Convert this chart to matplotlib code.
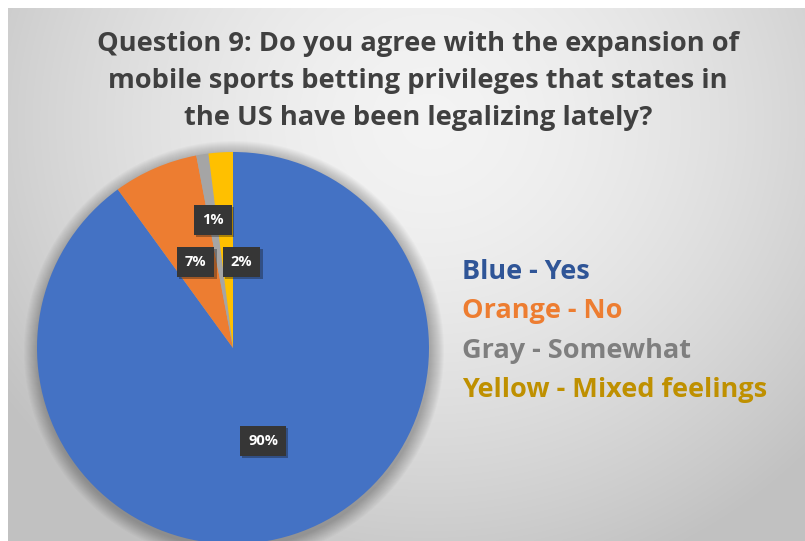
import numpy as np
import matplotlib
matplotlib.use("Agg")
import matplotlib.pyplot as plt
from matplotlib.patches import Circle
import matplotlib.patheffects as pe

# Survey results
categories = ["Blue - Yes", "Orange - No", "Gray - Somewhat", "Yellow - Mixed feelings"]
shares = [90, 7, 1, 2]
title = ("Question 9: Do you agree with the expansion of\n"
         "mobile sports betting privileges that states in\n"
         "the US have been legalizing lately?")

slice_colors = ["#4472C4", "#ED7D31", "#A5A5A5", "#FFC000"]
legend_colors = ["#2F5597", "#ED7D31", "#7F7F7F", "#BF9000"]
FONT = "Open Sans"

W, H = 805, 541
fig = plt.figure(figsize=(W / 100, H / 100), dpi=100, facecolor="white")
ax = fig.add_axes([0, 0, 1, 1])
ax.set_xlim(0, W)
ax.set_ylim(0, H)
ax.axis("off")

# Soft radial gray backdrop (white margin on top and left)
gx, gy = np.meshgrid(np.linspace(8, W, 400), np.linspace(0, H - 8, 270))
d = np.sqrt(((gx - 430) / 560) ** 2 + ((gy - 420) / 520) ** 2)
shade = np.clip(0.955 - 0.22 * d ** 1.6, 0.76, 0.96)
ax.imshow(np.dstack([shade] * 3), extent=(8, W, 0, H - 8), origin="lower",
          aspect="auto", interpolation="bilinear", zorder=0)

cx, cy, r = 233, 193, 196

# Blurred drop shadow under the pie
for k in range(14):
    ax.add_patch(Circle((cx + 1, cy - 3), r + 14 - k, color="black",
                        alpha=0.02, lw=0, zorder=1))

wedges, _, autotexts = ax.pie(
    shares, colors=slice_colors, startangle=90, counterclock=False,
    center=(cx, cy), radius=r, autopct="%d%%", pctdistance=0.5,
    wedgeprops=dict(linewidth=0, zorder=2),
    textprops=dict(color="white", fontsize=10.5, fontweight="bold",
                   family=FONT, zorder=5),
)
ax.set_xlim(0, W)
ax.set_ylim(0, H)
ax.set_aspect("auto")

# Nudge the small-slice labels so they do not collide
label_dist = [0.5, 0.48, 0.66, 0.44]
x_shift = [0, 0, 0, 14]
for w, t, dist, sx in zip(wedges, autotexts, label_dist, x_shift):
    mid = np.deg2rad((w.theta1 + w.theta2) / 2)
    t.set_position((cx + dist * r * np.cos(mid) + sx, cy + dist * r * np.sin(mid)))
    t.set_bbox(dict(boxstyle="square,pad=0.55", fc="#363636", ec="none"))
    t.get_bbox_patch().set_path_effects(
        [pe.SimplePatchShadow(offset=(1.5, -1.5), alpha=0.35), pe.Normal()])

# Title
ax.text(418, H - 81, title, ha="center", va="center", multialignment="center",
        fontsize=19.6, fontweight="bold", color="#404040", family=FONT,
        linespacing=1.55, zorder=6)

# Color key
for i, (lab, col) in enumerate(zip(categories, legend_colors)):
    ax.text(462, H - (279 + 39.3 * i), lab, ha="left", va="baseline",
            fontsize=19.5, fontweight="bold", color=col, family=FONT, zorder=6)

fig.savefig("out.png", dpi=100, facecolor="white")
